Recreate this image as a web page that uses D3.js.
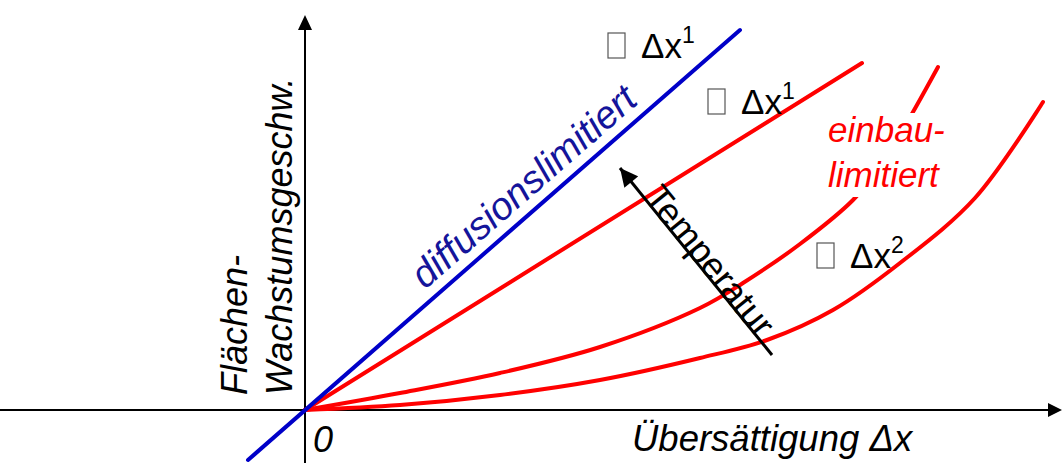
<!DOCTYPE html>
<html>
<head>
<meta charset="utf-8">
<script src="https://cdn.jsdelivr.net/npm/d3@7"></script>
<style>
  html, body { margin: 0; padding: 0; background: #fff; }
  svg { display: block; font-family: "Liberation Sans", Arial, sans-serif; }
</style>
</head>
<body>
<svg id="chart" width="1062" height="463"></svg>
<script>
// Growth rate vs. supersaturation: diffusion-limited (linear) and
// incorporation-limited curves for several temperatures.
const diffX = [-0.57, 4.35];
const diffY = [-0.5, 3.8];

const lin1X = [0, 5.57];
const lin1Y = [0, 3.47];

const midX = [0, 0.95, 1.95, 2.95, 3.95, 4.38, 4.95, 5.48, 5.78, 6.08, 6.33];
const midY = [0, 0.17, 0.37, 0.63, 1.02, 1.27, 1.66, 2.10, 2.47, 2.98, 3.43];

const lowX = [0, 0.95, 1.95, 2.95, 3.95, 4.62, 5.28, 5.95, 6.70, 7.38];
const lowY = [0, 0.05, 0.15, 0.30, 0.52, 0.70, 1.00, 1.47, 2.12, 3.08];

// proportionality annotations: exponent of Δx and anchor (data units)
const propExp = ["1", "1", "2"];
const propX = [3.36, 4.36, 5.45];
const propY = [3.52, 2.96, 1.42];

const W = 1062, H = 463;
const x = d3.scaleLinear().domain([-3.05, 7.57]).range([0, W]);
const y = d3.scaleLinear().domain([0, 4.10]).range([410, 0]);

const svg = d3.select("#chart");
const defs = svg.append("defs");
defs.append("marker")
  .attr("id", "head").attr("viewBox", "0 0 10 10")
  .attr("refX", 10).attr("refY", 5)
  .attr("markerWidth", 20).attr("markerHeight", 18)
  .attr("markerUnits", "userSpaceOnUse")
  .attr("orient", "auto")
  .append("path").attr("d", "M0,0 L10,5 L0,10 Z").attr("fill", "#000");

const zip = (a, b) => a.map((v, i) => [v, b[i]]);
const line = d3.line().x(d => x(d[0])).y(d => y(d[1])).curve(d3.curveCatmullRom.alpha(0.5));

// axes through the origin
const axes = svg.append("g").attr("stroke", "#000").attr("stroke-width", 2);
axes.append("line")
  .attr("x1", 0).attr("x2", W - 10).attr("y1", y(0)).attr("y2", y(0));
axes.append("path")
  .attr("d", `M${W},${y(0)} L${W - 14},${y(0) - 7} L${W - 14},${y(0) + 7} Z`)
  .attr("fill", "#000").attr("stroke", "none");
axes.append("line")
  .attr("x1", x(0)).attr("x2", x(0)).attr("y1", H).attr("y2", 28);
axes.append("path")
  .attr("d", `M${x(0)},15 L${x(0) - 7},30 L${x(0) + 7},30 Z`)
  .attr("fill", "#000").attr("stroke", "none");

// curves
const curves = svg.append("g").attr("fill", "none").attr("stroke-linecap", "round");
curves.append("path").attr("d", line(zip(lowX, lowY))).attr("stroke", "#ff0000").attr("stroke-width", 4);
curves.append("path").attr("d", line(zip(midX, midY))).attr("stroke", "#ff0000").attr("stroke-width", 4);
curves.append("path").attr("d", line(zip(lin1X, lin1Y))).attr("stroke", "#ff0000").attr("stroke-width", 4);
curves.append("path").attr("d", line(zip(diffX, diffY))).attr("stroke", "#0000c8").attr("stroke-width", 4);

// "einbau-limitiert" label on a white plate
const ein = svg.append("g");
ein.append("rect").attr("x", 824).attr("y", 113).attr("width", 128).attr("height", 84).attr("fill", "#fff");
const einT = ein.append("text").attr("fill", "#ff0000").attr("font-style", "italic").attr("font-size", 35);
einT.append("tspan").attr("x", 828).attr("y", 142).text("einbau-");
einT.append("tspan").attr("x", 828).attr("y", 187).text("limitiert");

// diffusion label along the blue line
const ang = Math.atan2(y(diffY[1]) - y(diffY[0]), x(diffX[1]) - x(diffX[0])) * 180 / Math.PI;
svg.append("text")
  .attr("transform", `translate(${x(1.2)},${y(1.2)}) rotate(${ang})`)
  .attr("fill", "#14149a").attr("font-style", "italic").attr("font-size", 38.5)
  .text("diffusionslimitiert");

// temperature arrow
const tA = [4.67, 0.55], tB = [3.15, 2.42];
svg.append("line")
  .attr("x1", x(tA[0])).attr("y1", y(tA[1])).attr("x2", x(tB[0])).attr("y2", y(tB[1]))
  .attr("stroke", "#000").attr("stroke-width", 3)
  .attr("marker-end", "url(#head)");
const tAng = Math.atan2(y(tA[1]) - y(tB[1]), x(tA[0]) - x(tB[0])) * 180 / Math.PI;
svg.append("text")
  .attr("transform", `translate(${x(3.38)},${y(2.12)}) rotate(${tAng})`)
  .attr("font-size", 36).attr("fill", "#000")
  .text("Temperatur");

// proportionality labels
propExp.forEach((e, i) => {
  const px = x(propX[i]), py = y(propY[i]);
  svg.append("rect")
    .attr("x", px - 33).attr("y", py - 25).attr("width", 17).attr("height", 25)
    .attr("fill", "none").attr("stroke", "#555").attr("stroke-width", 1.2);
  const t = svg.append("text").attr("x", px).attr("y", py).attr("font-size", 35).attr("fill", "#000");
  t.append("tspan").text("Δx");
  t.append("tspan").attr("font-size", 23).attr("dy", -15).text(e);
});

// axis titles
svg.append("text").attr("x", x(0) + 8).attr("y", 452)
  .attr("font-style", "italic").attr("font-size", 36).text("0");
svg.append("text").attr("x", 632).attr("y", 451)
  .attr("font-style", "italic").attr("font-size", 36.5).text("Übersättigung Δx");
const yl = svg.append("text").attr("transform", "translate(247,395) rotate(-90)")
  .attr("font-style", "italic").attr("font-size", 36);
yl.append("tspan").attr("x", 0).attr("y", 0).text("Flächen-");
yl.append("tspan").attr("x", 0).attr("y", 45).text("Wachstumsgeschw.");
</script>
</body>
</html>
